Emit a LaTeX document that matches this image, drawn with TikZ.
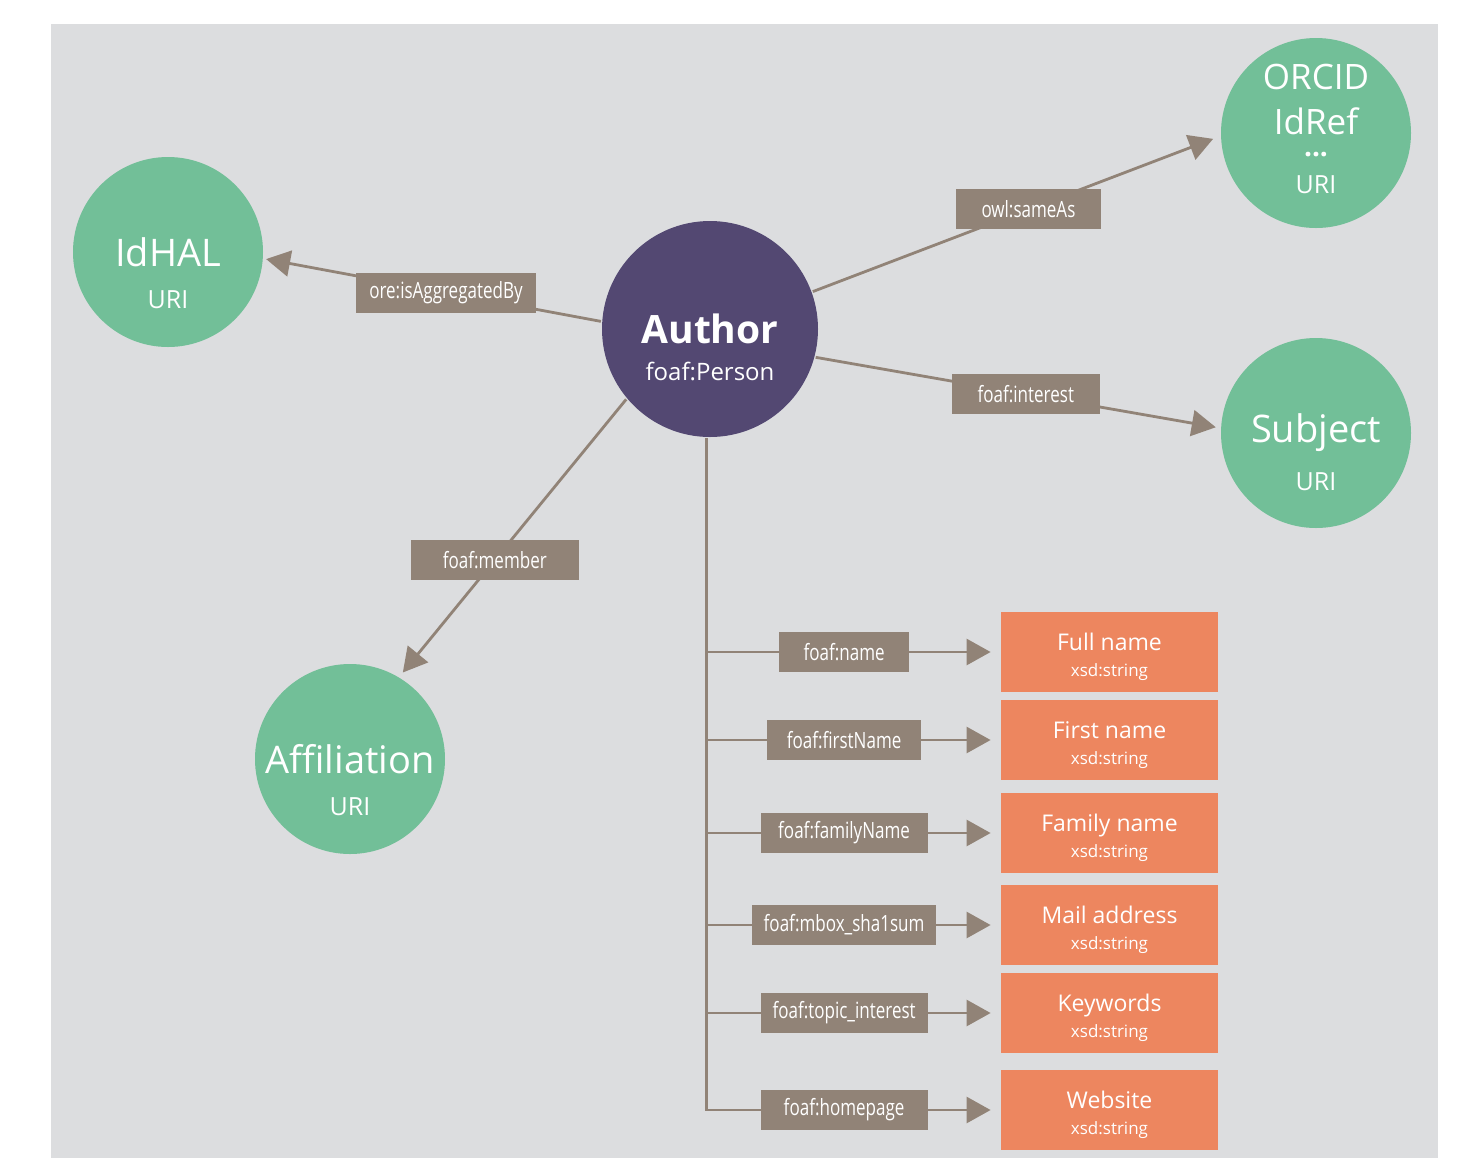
\documentclass[tikz,border=0pt]{standalone}
\usepackage{fontspec}
\setmainfont{Open Sans}
\newfontfamily\condfont[FakeStretch=0.76]{Open Sans}
\usetikzlibrary{arrows.meta}

\definecolor{bggrey}{RGB}{220,221,223}
\definecolor{resgreen}{RGB}{114,191,152}
\definecolor{authpurple}{RGB}{83,72,114}
\definecolor{litorange}{RGB}{237,134,95}
\definecolor{propbrown}{RGB}{145,131,119}

% literal box text: label over its datatype
\newcommand{\littext}[1]{\rule{0pt}{14pt}#1\\{\fontsize{8.5}{10}\selectfont xsd:string}}

\begin{document}
\begin{tikzpicture}[x=0.5pt,y=-0.5pt,>={Triangle[length=12pt,width=13pt]},line width=1.4pt]
        \tikzstyle{res}=[circle,fill=resgreen,text=white,minimum size=95pt,inner sep=0pt,font=\fontsize{19}{22}\selectfont]
        \tikzstyle{restxt}=[text=white,align=center,inner sep=0pt,font=\fontsize{17.5}{22.5}\selectfont]
        \tikzstyle{uri}=[text=white,font=\fontsize{12.5}{15}\selectfont]
        \tikzstyle{prop}=[fill=propbrown,text=white,font=\condfont\fontsize{11.2}{13}\selectfont,inner xsep=6pt,inner ysep=0pt,minimum height=20pt]
        \tikzstyle{lit}=[fill=litorange,text=white,minimum width=108.5pt,minimum height=40pt,align=center,font=\fontsize{11.5}{13}\selectfont]
        \tikzstyle{link}=[draw=propbrown,->]

        \useasboundingbox (0,0) rectangle (1457,1158);
        \fill[bggrey] (51,24) rectangle (1438,1158);

        % central resource
        \node[circle,fill=authpurple,minimum size=108pt,text=white,font=\bfseries\fontsize{19.5}{22}\selectfont] (author) at (710,329) {Author};
        \node[uri,font=\fontsize{12}{14}\selectfont] (author-class) at (710,371) {foaf:Person};

        % linked resources
        \node[res] (idhal) at (168,252) {IdHAL};
        \node[uri] (idhal-uri) at (168,300) {URI};
        \node[res] (orcid) at (1316,133) {};
        \node[restxt] (orcid-ids) at (1316,99) {ORCID\\IdRef};
        \node[text=white,inner sep=0pt,font=\bfseries\fontsize{14}{16}\selectfont] (orcid-more) at (1316,155) {...};
        \node[uri] (orcid-uri) at (1316,185) {URI};
        \node[res] (subject) at (1316,433) {Subject};
        \node[uri] (subject-uri) at (1316,482) {URI};
        \node[res] (affil) at (350,759) {Affiliation};
        \node[uri] (affil-uri) at (350,807) {URI};

        % literals
        \node[lit] (fullname)   at (1109.5,652)  {\littext{Full name}};
        \node[lit] (firstname)  at (1109.5,740)  {\littext{First name}};
        \node[lit] (familyname) at (1109.5,833)  {\littext{Family name}};
        \node[lit] (mail)       at (1109.5,925)  {\littext{Mail address}};
        \node[lit] (keywords)   at (1109.5,1013) {\littext{Keywords}};
        \node[lit] (website)    at (1109.5,1110) {\littext{Website}};

        \path (author.176) edge[link,shorten >=1pt] node[prop,pos=0.46,minimum width=90pt] (aggregated) {ore:isAggregatedBy} (idhal.356.5)
        (author.20) edge[link,shorten >=3.5pt] node[prop,pos=0.53,minimum width=72.5pt] (sameas) {owl:sameAs} (orcid.182)
        (author.345.5) edge[link,shorten >=2pt] node[prop,pos=0.52,minimum width=74pt] (interest) {foaf:interest} (subject.177)
        (author.220) edge[link,shorten >=2.5pt] node[prop,pos=0.58,minimum width=84pt] (member) {foaf:member} (affil.59);

        \draw[link,shorten >=4.5pt] (author.268) |- node[prop,pos=0.735,minimum width=83.5pt] (homepage) {foaf:homepage} (website.west);
        \path (author.268 |- fullname) edge[link,shorten >=4.5pt] node[prop,pos=0.47,minimum width=65pt] (name) {foaf:name} (fullname.west)
        (author.268 |- firstname) edge[link,shorten >=4.5pt] node[prop,pos=0.47,minimum width=77pt] (first) {foaf:firstName} (firstname.west)
        (author.268 |- familyname) edge[link,shorten >=4.5pt] node[prop,pos=0.47,minimum width=83.5pt] (family) {foaf:familyName} (familyname.west)
        (author.268 |- mail) edge[link,shorten >=4.5pt] node[prop,pos=0.47,minimum width=91.5pt] (mbox) {foaf:mbox\_sha1sum} (mail.west)
        (author.268 |- keywords) edge[link,shorten >=4.5pt] node[prop,pos=0.47,minimum width=83.5pt] (topic) {foaf:topic\_interest} (keywords.west);
\end{tikzpicture}
\end{document}
